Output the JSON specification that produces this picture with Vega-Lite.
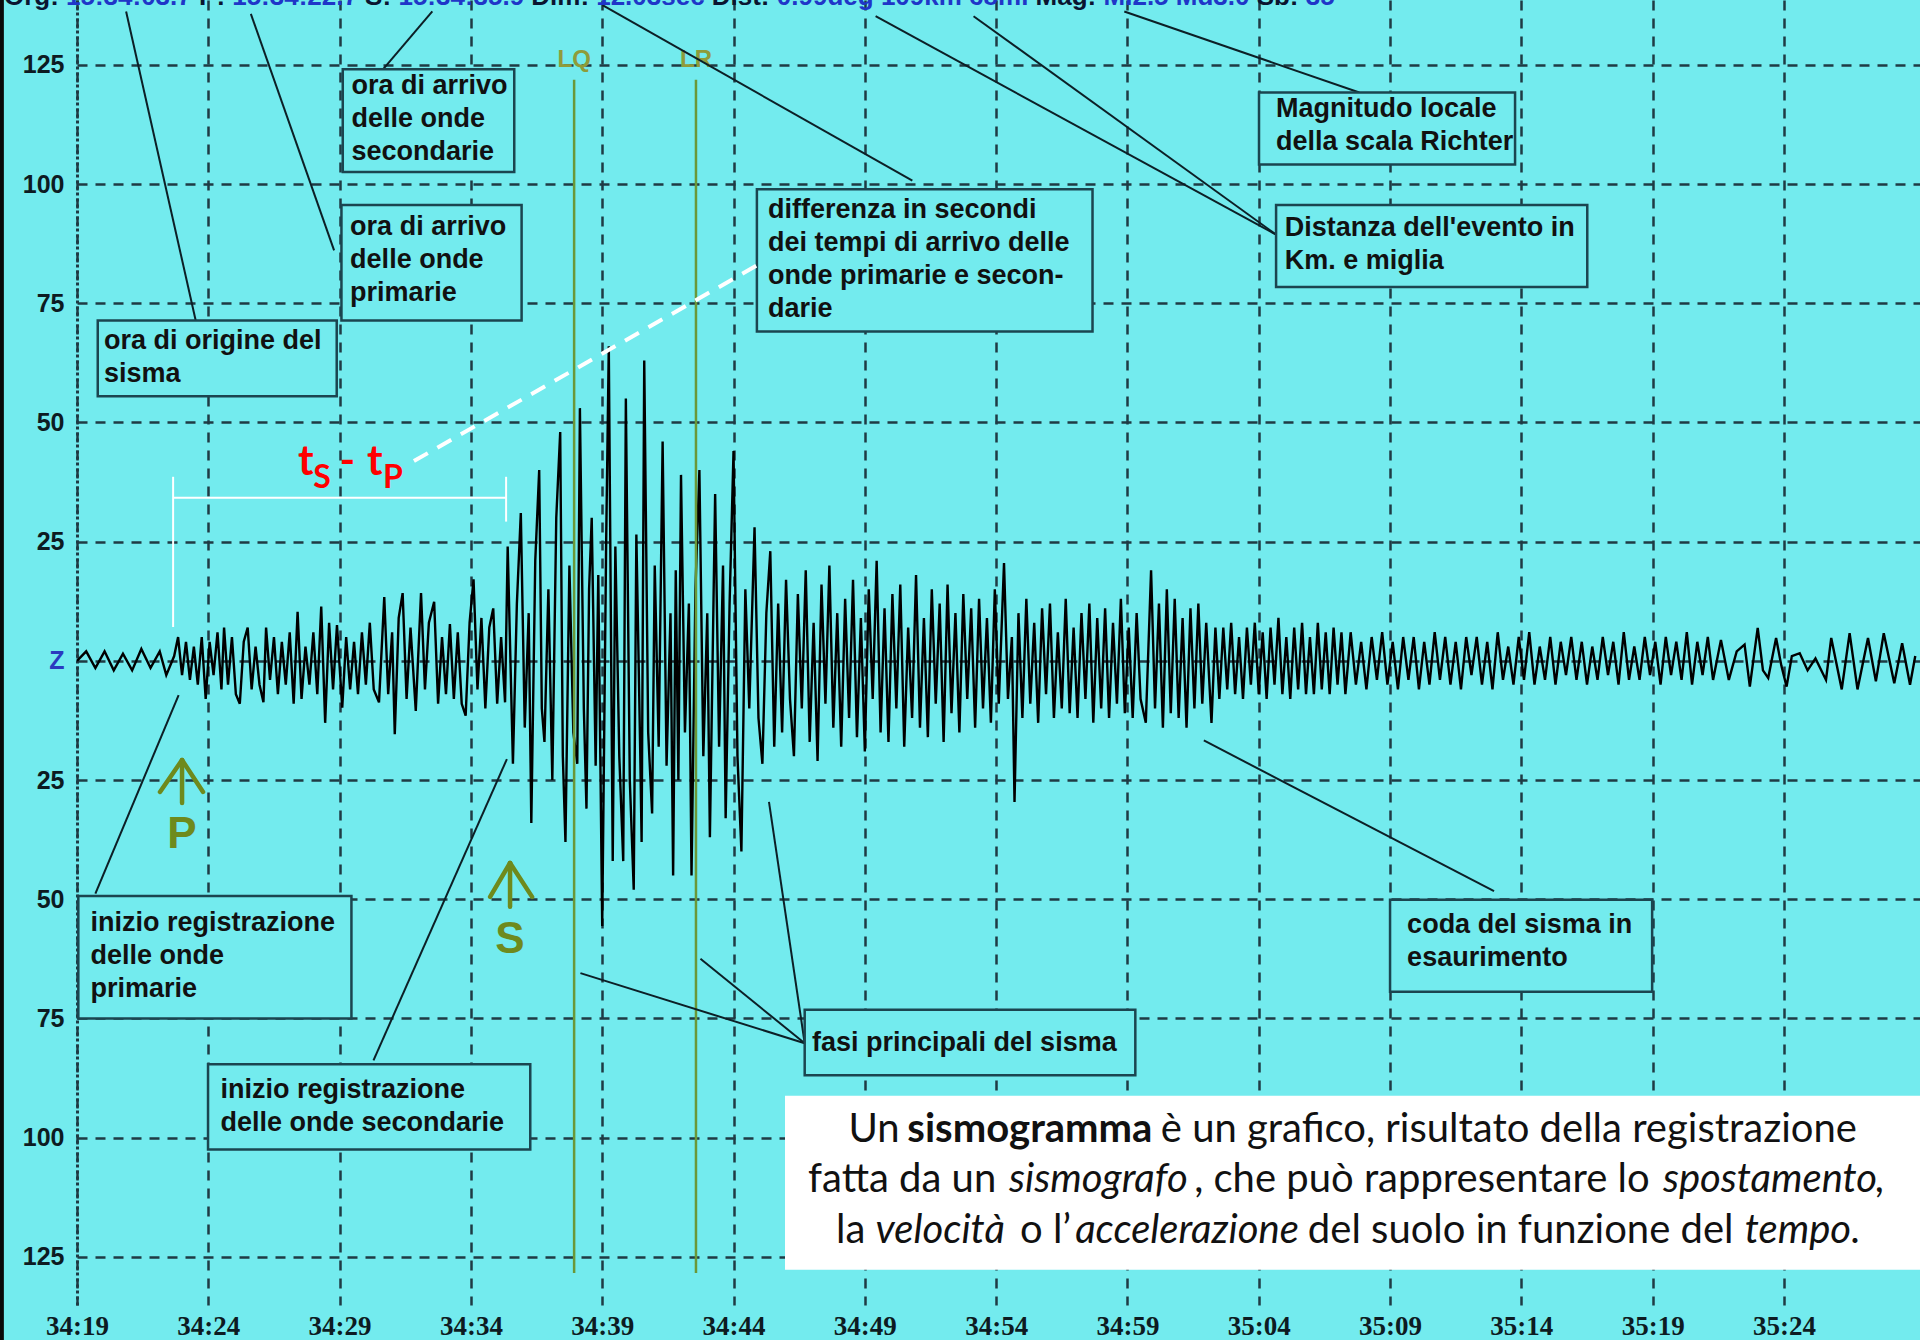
{
  "$schema": "https://vega.github.io/schema/vega-lite/v6.json",
  "width": 1843,
  "height": 1305,
  "autosize": "none",
  "padding": {"left": 77, "top": 0, "right": 0, "bottom": 35},
  "background": "#73EBEE",
  "config": {"view": {"stroke": null}},
  "datasets": {
    "trace": [
      {"s":0,"v":0},{"s":0.35,"v":2},{"s":0.7,"v":-1.5},{"s":1.05,"v":2},{"s":1.4,"v":-2},{"s":1.75,"v":1.5},{"s":2.1,"v":-2},{"s":2.45,"v":2.5},{"s":2.8,"v":-1.5},{"s":3.15,"v":2},{"s":3.4,"v":-3},{"s":3.7,"v":1},
      {"s":3.85,"v":5},{"s":4.0,"v":-3},{"s":4.15,"v":4},{"s":4.3,"v":-4},{"s":4.45,"v":3},{"s":4.6,"v":-5},{"s":4.75,"v":5},{"s":4.9,"v":-8},{"s":5.05,"v":4},{"s":5.2,"v":-3},{"s":5.35,"v":6},{"s":5.5,"v":-6},{"s":5.6,"v":7},{"s":5.75,"v":-5},{"s":5.9,"v":5},{"s":6.05,"v":-7},{"s":6.2,"v":-9},{"s":6.35,"v":4},{"s":6.5,"v":7},{"s":6.65,"v":-6},{"s":6.8,"v":3},{"s":6.95,"v":-5},{"s":7.1,"v":-8.7},{"s":7.2,"v":7},{"s":7.35,"v":-4},{"s":7.5,"v":5},{"s":7.65,"v":-7},{"s":7.8,"v":4},{"s":7.95,"v":-5},{"s":8.1,"v":6},{"s":8.25,"v":-9},{"s":8.4,"v":10.3},{"s":8.55,"v":-8},{"s":8.7,"v":3},{"s":8.85,"v":-5},{"s":9.0,"v":6},{"s":9.15,"v":-7},{"s":9.3,"v":11.4},{"s":9.45,"v":-13},{"s":9.6,"v":8},{"s":9.75,"v":-6},{"s":9.9,"v":7.5},{"s":10.1,"v":-9.8},{"s":10.25,"v":5},{"s":10.4,"v":-6},{"s":10.55,"v":4},{"s":10.7,"v":-7},{"s":10.85,"v":6},{"s":11.0,"v":-5},{"s":11.15,"v":8},{"s":11.3,"v":-6},{"s":11.5,"v":-8.7},{"s":11.7,"v":13.4},{"s":11.85,"v":-7},{"s":12.0,"v":6},{"s":12.1,"v":-15.4},{"s":12.25,"v":9},{"s":12.4,"v":14.2},{"s":12.55,"v":-8},{"s":12.7,"v":7},{"s":12.9,"v":-10.5},{"s":13.1,"v":14.2},{"s":13.25,"v":-6},{"s":13.4,"v":8},{"s":13.6,"v":12.4},{"s":13.75,"v":-9},{"s":13.9,"v":5},{"s":14.05,"v":-7},{"s":14.2,"v":7.7},{"s":14.35,"v":-8},{"s":14.5,"v":6},{"s":14.65,"v":-9},{"s":14.8,"v":-11.5},{"s":14.95,"v":8},{"s":15.1,"v":17.1},{"s":15.25,"v":-6},{"s":15.4,"v":9},{"s":15.55,"v":-10},{"s":15.7,"v":7},{"s":15.85,"v":11},{"s":16.0,"v":-9},{"s":16.15,"v":5},{"s":16.3,"v":-8.7},
      {"s":16.4,"v":24},{"s":16.6,"v":-21.6},{"s":16.75,"v":12},{"s":16.9,"v":31},{"s":17.05,"v":-14},{"s":17.2,"v":10},{"s":17.3,"v":-34},{"s":17.45,"v":21},{"s":17.6,"v":40},{"s":17.7,"v":-10},{"s":17.8,"v":-17},{"s":17.95,"v":15},{"s":18.1,"v":-25},{"s":18.25,"v":30},{"s":18.4,"v":48},{"s":18.5,"v":-20},{"s":18.6,"v":-38},{"s":18.75,"v":20},{"s":18.9,"v":-15},{"s":19.05,"v":-21.6},{"s":19.15,"v":53},{"s":19.3,"v":-10},{"s":19.4,"v":-31},{"s":19.5,"v":15},{"s":19.6,"v":30},{"s":19.75,"v":-22},{"s":19.85,"v":18},{"s":20.0,"v":-55.6},{"s":20.15,"v":25},{"s":20.25,"v":66},{"s":20.4,"v":-42},{"s":20.5,"v":24},{"s":20.65,"v":-20},{"s":20.8,"v":-42},{"s":20.9,"v":55},{"s":21.05,"v":-25},{"s":21.2,"v":-48},{"s":21.3,"v":26.5},{"s":21.45,"v":-20},{"s":21.5,"v":-38},{"s":21.6,"v":63},{"s":21.75,"v":-15},{"s":21.9,"v":-32},{"s":22.0,"v":20},{"s":22.15,"v":-18},{"s":22.3,"v":46},{"s":22.45,"v":-22},{"s":22.6,"v":10},{"s":22.7,"v":-45},{"s":22.8,"v":19},{"s":22.9,"v":-25},{"s":23.0,"v":39},{"s":23.15,"v":-15},{"s":23.3,"v":12},{"s":23.4,"v":-45},{"s":23.55,"v":15},{"s":23.7,"v":40},{"s":23.85,"v":-20},{"s":24.0,"v":10},{"s":24.1,"v":-37},{"s":24.3,"v":35},{"s":24.45,"v":-18},{"s":24.6,"v":20},{"s":24.7,"v":-33},{"s":24.85,"v":12},{"s":25.0,"v":44},{"s":25.15,"v":-20},{"s":25.3,"v":-40},{"s":25.45,"v":15},{"s":25.6,"v":-10},{"s":25.8,"v":28},{"s":25.95,"v":-12},{"s":26.1,"v":-21.6},{"s":26.25,"v":10},{"s":26.4,"v":23},{"s":26.55,"v":-18},{"s":26.7,"v":12},
      {"s":26.85,"v":-15},{"s":27.0,"v":17},{"s":27.15,"v":-8},{"s":27.3,"v":-20},{"s":27.45,"v":14},{"s":27.6,"v":-10},{"s":27.75,"v":19},{"s":27.9,"v":-17},{"s":28.05,"v":8},{"s":28.2,"v":-21},{"s":28.35,"v":16},{"s":28.5,"v":-9},{"s":28.65,"v":20},{"s":28.8,"v":-14},{"s":28.95,"v":10},{"s":29.1,"v":-18},{"s":29.25,"v":13},{"s":29.4,"v":-12},{"s":29.55,"v":17},{"s":29.7,"v":-16},{"s":29.85,"v":9},{"s":30.0,"v":-19},{"s":30.15,"v":15},{"s":30.3,"v":-8},{"s":30.45,"v":21},{"s":30.6,"v":-15},{"s":30.75,"v":11},{"s":30.9,"v":-17},{"s":31.05,"v":14},{"s":31.2,"v":-10},{"s":31.35,"v":16},{"s":31.5,"v":-18},{"s":31.65,"v":7},{"s":31.8,"v":-12},{"s":31.95,"v":18},{"s":32.1,"v":-14},{"s":32.25,"v":9},{"s":32.4,"v":-16},{"s":32.55,"v":15},{"s":32.7,"v":-9},{"s":32.85,"v":12},{"s":33.0,"v":-17},{"s":33.15,"v":16},{"s":33.3,"v":-11},{"s":33.45,"v":10},{"s":33.6,"v":-15},{"s":33.75,"v":14},{"s":33.9,"v":-8},{"s":34.05,"v":11},{"s":34.2,"v":-14},{"s":34.35,"v":13},{"s":34.5,"v":-10},{"s":34.65,"v":9},{"s":34.8,"v":-13},{"s":34.95,"v":15},{"s":35.1,"v":-9},{"s":35.3,"v":20.5},{"s":35.45,"v":-8},{"s":35.6,"v":5},{"s":35.7,"v":-29.6},{"s":35.85,"v":10},{"s":36.0,"v":-12},
      {"s":36.15,"v":13},{"s":36.3,"v":-9},{"s":36.45,"v":8},{"s":36.6,"v":-13},{"s":36.75,"v":11},{"s":36.9,"v":-7},{"s":37.05,"v":12},{"s":37.2,"v":-12},{"s":37.35,"v":6},{"s":37.5,"v":-10},{"s":37.65,"v":13},{"s":37.8,"v":-11},{"s":37.95,"v":7},{"s":38.1,"v":-12},{"s":38.25,"v":10},{"s":38.4,"v":-8},{"s":38.55,"v":12},{"s":38.7,"v":-13},{"s":38.85,"v":9},{"s":39.0,"v":-10},{"s":39.15,"v":11},{"s":39.3,"v":-12},{"s":39.45,"v":8},{"s":39.6,"v":-9},{"s":39.75,"v":13},{"s":39.9,"v":-11},{"s":40.05,"v":7},{"s":40.2,"v":-12},{"s":40.35,"v":10},{"s":40.5,"v":-8},{"s":40.7,"v":-13},{"s":40.9,"v":19},{"s":41.05,"v":-10},{"s":41.2,"v":12},{"s":41.35,"v":-14},{"s":41.5,"v":15},{"s":41.65,"v":-11},{"s":41.8,"v":13},{"s":41.95,"v":-12},{"s":42.1,"v":9},{"s":42.25,"v":-14},{"s":42.4,"v":11},{"s":42.55,"v":-10},{"s":42.7,"v":12},{"s":42.85,"v":-9},{"s":43.0,"v":8},{"s":43.2,"v":-13},{"s":43.35,"v":7},
      {"s":43.5,"v":-8},{"s":43.65,"v":7},{"s":43.8,"v":-6},{"s":43.95,"v":8},{"s":44.1,"v":-7},{"s":44.25,"v":5},{"s":44.4,"v":-8},{"s":44.55,"v":7},{"s":44.7,"v":-5},{"s":44.85,"v":8},{"s":45.0,"v":-7},{"s":45.15,"v":6},{"s":45.3,"v":-8},{"s":45.45,"v":7},{"s":45.6,"v":-5},{"s":45.75,"v":9},{"s":45.9,"v":-7},{"s":46.05,"v":5},{"s":46.2,"v":-8},{"s":46.35,"v":7},{"s":46.5,"v":-6},{"s":46.65,"v":8},{"s":46.8,"v":-7},{"s":46.95,"v":5},{"s":47.1,"v":-7},{"s":47.25,"v":8},{"s":47.4,"v":-6},{"s":47.55,"v":6},{"s":47.7,"v":-7},{"s":47.85,"v":7},{"s":48.0,"v":-5},{"s":48.15,"v":6},{"s":48.3,"v":-7},
      {"s":48.5,"v":6},{"s":48.7,"v":-5},{"s":48.9,"v":4},{"s":49.1,"v":-6},{"s":49.3,"v":5},{"s":49.5,"v":-4},{"s":49.7,"v":6},{"s":49.9,"v":-5},{"s":50.1,"v":4},{"s":50.3,"v":-6},{"s":50.5,"v":5},{"s":50.7,"v":-4},{"s":50.9,"v":5},{"s":51.1,"v":-6},{"s":51.3,"v":4},{"s":51.5,"v":-5},{"s":51.7,"v":6},{"s":51.9,"v":-4},{"s":52.1,"v":5},{"s":52.3,"v":-5},{"s":52.5,"v":4},{"s":52.7,"v":-6},{"s":52.9,"v":5},{"s":53.1,"v":-3},{"s":53.3,"v":5},{"s":53.5,"v":-5},{"s":53.7,"v":4},{"s":53.9,"v":-6},{"s":54.1,"v":6},{"s":54.3,"v":-4},{"s":54.5,"v":3},{"s":54.7,"v":-5},{"s":54.9,"v":5},{"s":55.1,"v":-4},{"s":55.3,"v":6},{"s":55.5,"v":-5},{"s":55.7,"v":3},{"s":55.9,"v":-4},{"s":56.1,"v":5},{"s":56.3,"v":-5},{"s":56.5,"v":4},{"s":56.7,"v":-3},{"s":56.9,"v":5},{"s":57.1,"v":-4},{"s":57.3,"v":4},{"s":57.5,"v":-5},{"s":57.7,"v":3},{"s":57.9,"v":-4},{"s":58.1,"v":5},{"s":58.3,"v":-3},{"s":58.5,"v":4},{"s":58.7,"v":-5},{"s":58.9,"v":6},{"s":59.1,"v":-4},{"s":59.3,"v":3},{"s":59.5,"v":-4},{"s":59.7,"v":5},{"s":59.9,"v":-3},{"s":60.1,"v":4},{"s":60.3,"v":-5},{"s":60.5,"v":5},{"s":60.7,"v":-3},{"s":60.9,"v":4},{"s":61.1,"v":-4},{"s":61.3,"v":6},{"s":61.5,"v":-5},{"s":61.7,"v":4},{"s":61.9,"v":-3},{"s":62.1,"v":5},{"s":62.3,"v":-4},
      {"s":62.6,"v":4.4},{"s":62.9,"v":-4},{"s":63.2,"v":2},{"s":63.5,"v":3.4},{"s":63.7,"v":-5.4},{"s":64.0,"v":6.9},{"s":64.2,"v":-2},{"s":64.4,"v":-3.6},{"s":64.7,"v":4.8},{"s":64.9,"v":-1},{"s":65.1,"v":-5.4},{"s":65.3,"v":1},{"s":65.6,"v":1.6},{"s":65.9,"v":-2},{"s":66.2,"v":0.5},{"s":66.6,"v":-4},{"s":66.8,"v":4.8},{"s":67.2,"v":-6},{"s":67.5,"v":5.8},{"s":67.8,"v":-6},{"s":68.2,"v":4.8},{"s":68.5,"v":-4.3},{"s":68.8,"v":5.8},{"s":69.2,"v":-4.7},{"s":69.5,"v":3.7},{"s":69.8,"v":-5},{"s":70.0,"v":1}
    ],
    "boxes": [
      {"s":10.12,"s2":16.65,"v":124.1,"v2":102.5},
      {"s":10.07,"s2":16.93,"v":95.6,"v2":71.4},
      {"s":0.79,"s2":9.89,"v":71.4,"v2":55.5},
      {"s":25.89,"s2":38.67,"v":98.9,"v2":69.1},
      {"s":45.01,"s2":54.76,"v":119.2,"v2":104.1},
      {"s":45.66,"s2":57.51,"v":95.6,"v2":78.4},
      {"s":0.05,"s2":10.45,"v":-49.3,"v2":-75.0},
      {"s":4.99,"s2":17.26,"v":-84.6,"v2":-102.5},
      {"s":50.0,"s2":59.98,"v":-50.1,"v2":-69.4},
      {"s":27.71,"s2":40.3,"v":-73.2,"v2":-86.9}
    ],
    "boxText": [
      {"s":10.45,"v":120.5,"label":"ora di arrivo\ndelle onde\nsecondarie"},
      {"s":10.4,"v":91.0,"label":"ora di arrivo\ndelle onde\nprimarie"},
      {"s":1.03,"v":67.1,"label":"ora di origine del\nsisma"},
      {"s":26.31,"v":94.6,"label":"differenza in secondi\ndei tempi di arrivo delle\nonde primarie e secon-\ndarie"},
      {"s":45.66,"v":115.7,"label":"Magnitudo locale\ndella scala Richter"},
      {"s":45.99,"v":90.7,"label":"Distanza dell'evento in\nKm. e miglia"},
      {"s":0.51,"v":-55.0,"label":"inizio registrazione\ndelle onde\nprimarie"},
      {"s":5.46,"v":-90.0,"label":"inizio registrazione\ndelle onde secondarie"},
      {"s":50.65,"v":-55.5,"label":"coda del sisma in\nesaurimento"},
      {"s":27.99,"v":-80.2,"label":"fasi principali del sisma"}
    ],
    "pointers": [
      {"s":4.52,"v":71.4,"s2":1.87,"v2":136.2},
      {"s":9.79,"v":86.1,"s2":6.62,"v2":135.7},
      {"s":11.66,"v":124.1,"s2":13.53,"v2":136.2},
      {"s":31.81,"v":100.7,"s2":20.01,"v2":137.5},
      {"s":45.66,"v":89.4,"s2":30.41,"v2":135.2},
      {"s":45.66,"v":89.4,"s2":34.14,"v2":135.2},
      {"s":48.83,"v":119.2,"s2":39.88,"v2":136.2},
      {"s":0.7,"v":-48.8,"s2":3.87,"v2":-7.2},
      {"s":11.29,"v":-83.8,"s2":16.37,"v2":-20.6},
      {"s":53.96,"v":-48.3,"s2":42.91,"v2":-16.7},
      {"s":27.71,"v":-80.2,"s2":19.17,"v2":-65.5},
      {"s":27.71,"v":-80.2,"s2":23.74,"v2":-62.5},
      {"s":27.71,"v":-80.2,"s2":26.35,"v2":-29.6}
    ],
    "phases": [
      {"s":18.93,"v":121.9,"v2":-128.4,"name":"LQ","lv":126},
      {"s":23.57,"v":121.9,"v2":-128.4,"name":"LR","lv":126}
    ],
    "bracket": [
      {"s":3.66,"v":34.2,"s2":16.34,"v2":34.2},
      {"s":3.66,"v":38.6,"s2":3.66,"v2":7.1},
      {"s":16.34,"v":38.6,"s2":16.34,"v2":29.2}
    ],
    "link": [{"s":12.83,"v":41.9,"s2":26.07,"v2":83.5}],
    "tstp": [
      {"s":8.42,"v":39.0,"text":"t","part":"main"},
      {"s":9.0,"v":36.3,"text":"S","part":"sub"},
      {"s":10.0,"v":39.0,"text":"-","part":"main"},
      {"s":11.04,"v":39.0,"text":"t","part":"main"},
      {"s":11.65,"v":36.3,"text":"P","part":"sub"}
    ],
    "arrows": [
      {"s":4.0,"v":-20.8,"s2":4.0,"v2":-29.8},
      {"s":4.0,"v":-20.8,"s2":3.16,"v2":-27.5},
      {"s":4.0,"v":-20.8,"s2":4.8,"v2":-27.5},
      {"s":16.49,"v":-42.4,"s2":16.49,"v2":-51.6},
      {"s":16.49,"v":-42.4,"s2":15.73,"v2":-49.5},
      {"s":16.49,"v":-42.4,"s2":17.33,"v2":-49.5}
    ],
    "waves": [{"s":4.0,"v":-39.2,"text":"P"},{"s":16.49,"v":-61.2,"text":"S"}],
    "note": [{"s":26.96,"s2":70.18,"v":-91.2,"v2":-127.7}],
    "noteText": [
      {"s":29.38,"v":-98.3,"text":"Un","style":"regular"},
      {"s":31.62,"v":-98.3,"text":"sismogramma","style":"bold"},
      {"s":41.27,"v":-98.3,"text":"è un grafico, risultato della registrazione","style":"regular"},
      {"s":27.84,"v":-108.8,"text":"fatta da un","style":"regular"},
      {"s":35.49,"v":-108.8,"text":"sismografo","style":"italic"},
      {"s":42.54,"v":-108.8,"text":", che può rappresentare lo","style":"regular"},
      {"s":60.39,"v":-108.8,"text":"spostamento","style":"italic"},
      {"s":68.46,"v":-108.8,"text":",","style":"regular"},
      {"s":28.9,"v":-119.5,"text":"la","style":"regular"},
      {"s":30.41,"v":-119.5,"text":"velocità","style":"italic"},
      {"s":35.91,"v":-119.5,"text":"o l’","style":"regular"},
      {"s":38.01,"v":-119.5,"text":"accelerazione","style":"italic"},
      {"s":46.87,"v":-119.5,"text":"del suolo in funzione del","style":"regular"},
      {"s":63.51,"v":-119.5,"text":"tempo","style":"italic"},
      {"s":67.52,"v":-119.5,"text":".","style":"regular"}
    ],
    "header": [
      {"s":-2.78,"v":137.5,"text":"Org:","kind":"label"},
      {"s":-0.42,"v":137.5,"text":"15:34:03.7","kind":"value"},
      {"s":4.65,"v":137.5,"text":"P:","kind":"label"},
      {"s":5.91,"v":137.5,"text":"15:34:22.7","kind":"value"},
      {"s":10.97,"v":137.5,"text":"S:","kind":"label"},
      {"s":12.24,"v":137.5,"text":"15:34:35.9","kind":"value"},
      {"s":17.3,"v":137.5,"text":"Dim:","kind":"label"},
      {"s":19.77,"v":137.5,"text":"12.03sec","kind":"value"},
      {"s":24.17,"v":137.5,"text":"Dist:","kind":"label"},
      {"s":26.65,"v":137.5,"text":"0.99deg 109km 68mi","kind":"value"},
      {"s":36.5,"v":137.5,"text":"Mag:","kind":"label"},
      {"s":39.09,"v":137.5,"text":"Ml2.5 Md3.0","kind":"value"},
      {"s":44.92,"v":137.5,"text":"Sb:","kind":"label"},
      {"s":46.79,"v":137.5,"text":"35","kind":"value"}
    ],
    "frame": [{"s":-2.88,"v":140,"v2":-145}]
  },
  "encoding": {
    "x": {
      "field": "s", "type": "quantitative",
      "scale": {"domain": [0, 70.18], "nice": false, "zero": false},
      "axis": {
        "title": null,
        "values": [0,5,10,15,20,25,30,35,40,45,50,55,60,65],
        "labelExpr": "floor((2059+datum.value)/60) + ':' + ((2059+datum.value)%60 < 10 ? '0' : '') + ((2059+datum.value)%60)",
        "grid": true, "gridDash": [10, 8], "gridColor": "#1f3b44", "gridWidth": 2.5,
        "domain": false, "ticks": false, "labelPadding": 8,
        "labelFont": "Liberation Sans Narrow", "labelFontWeight": "bold", "labelFontSize": 27,
        "labelColor": "#0d1b22", "labelFlush": false, "labelOverlap": false
      }
    },
    "y": {
      "field": "v", "type": "quantitative",
      "scale": {"domain": [-135.1, 138.6], "nice": false, "zero": false},
      "axis": {
        "title": null,
        "values": [-125,-100,-75,-50,-25,0,25,50,75,100,125],
        "labelExpr": "datum.value == 0 ? 'Z' : '' + abs(datum.value)",
        "grid": true, "gridDash": [10, 8], "gridColor": "#1f3b44", "gridWidth": 2.5,
        "domain": true, "domainDash": [3, 3], "domainColor": "#1f3b44", "domainWidth": 3,
        "ticks": false, "labelPadding": 13,
        "labelFont": "Liberation Sans", "labelFontWeight": "bold", "labelFontSize": 25,
        "labelColor": {"condition": {"test": "datum.value == 0", "value": "#2a3bbf"}, "value": "#0d1b22"},
        "labelOverlap": false
      }
    }
  },
  "layer": [
    {
      "data": {"name": "frame"},
      "mark": {"type": "rule", "color": "#0a0a0a", "strokeWidth": 5},
      "encoding": {"y2": {"field": "v2"}}
    },
    {
      "data": {"name": "trace"},
      "mark": {"type": "line", "color": "#000000", "strokeWidth": 2.4}
    },
    {
      "data": {"name": "phases"},
      "mark": {"type": "rule", "color": "#6a9838", "strokeWidth": 2.5},
      "encoding": {"y2": {"field": "v2"}}
    },
    {
      "data": {"name": "phases"},
      "mark": {"type": "text", "color": "#8f9c3a", "font": "Liberation Sans", "fontWeight": "bold", "fontSize": 24, "align": "center", "baseline": "middle"},
      "encoding": {"y": {"field": "lv", "type": "quantitative"}, "text": {"field": "name"}}
    },
    {
      "data": {"name": "pointers"},
      "mark": {"type": "rule", "color": "#0c1f26", "strokeWidth": 2},
      "encoding": {"x2": {"field": "s2"}, "y2": {"field": "v2"}}
    },
    {
      "data": {"name": "boxes"},
      "mark": {"type": "rect", "fill": "#73EBEE", "stroke": "#1b4550", "strokeWidth": 2.5},
      "encoding": {"x2": {"field": "s2"}, "y2": {"field": "v2"}}
    },
    {
      "data": {"name": "boxText"},
      "mark": {"type": "text", "align": "left", "baseline": "middle", "lineBreak": "\n", "lineHeight": 33, "font": "Liberation Sans", "fontWeight": "bold", "fontSize": 27, "color": "#111111"},
      "encoding": {"text": {"field": "label"}}
    },
    {
      "data": {"name": "bracket"},
      "mark": {"type": "rule", "color": "#ffffff", "strokeWidth": 2},
      "encoding": {"x2": {"field": "s2"}, "y2": {"field": "v2"}}
    },
    {
      "data": {"name": "link"},
      "mark": {"type": "rule", "color": "#ffffff", "strokeWidth": 4, "strokeDash": [16, 11]},
      "encoding": {"x2": {"field": "s2"}, "y2": {"field": "v2"}}
    },
    {
      "data": {"name": "tstp"},
      "transform": [{"filter": "datum.part == 'main'"}],
      "mark": {"type": "text", "color": "#ff0000", "font": "Lato", "fontWeight": "bold", "fontSize": 42, "align": "left", "baseline": "alphabetic"},
      "encoding": {"text": {"field": "text"}}
    },
    {
      "data": {"name": "tstp"},
      "transform": [{"filter": "datum.part == 'sub'"}],
      "mark": {"type": "text", "color": "#ff0000", "font": "Lato", "fontWeight": "bold", "fontSize": 32, "align": "left", "baseline": "alphabetic"},
      "encoding": {"text": {"field": "text"}}
    },
    {
      "data": {"name": "arrows"},
      "mark": {"type": "rule", "color": "#6e8a1d", "strokeWidth": 4.5, "strokeCap": "round"},
      "encoding": {"x2": {"field": "s2"}, "y2": {"field": "v2"}}
    },
    {
      "data": {"name": "waves"},
      "mark": {"type": "text", "color": "#6e8a1d", "font": "Liberation Sans", "fontWeight": "bold", "fontSize": 44, "align": "center", "baseline": "alphabetic"},
      "encoding": {"text": {"field": "text"}}
    },
    {
      "data": {"name": "note"},
      "mark": {"type": "rect", "fill": "#ffffff"},
      "encoding": {"x2": {"field": "s2"}, "y2": {"field": "v2"}}
    },
    {
      "data": {"name": "noteText"},
      "transform": [{"filter": "datum.style == 'regular'"}],
      "mark": {"type": "text", "color": "#111111", "font": "Lato", "fontSize": 40, "align": "left", "baseline": "middle"},
      "encoding": {"text": {"field": "text"}}
    },
    {
      "data": {"name": "noteText"},
      "transform": [{"filter": "datum.style == 'bold'"}],
      "mark": {"type": "text", "color": "#111111", "font": "Lato", "fontWeight": "bold", "fontSize": 40, "align": "left", "baseline": "middle"},
      "encoding": {"text": {"field": "text"}}
    },
    {
      "data": {"name": "noteText"},
      "transform": [{"filter": "datum.style == 'italic'"}],
      "mark": {"type": "text", "color": "#111111", "font": "Lato", "fontStyle": "italic", "fontSize": 40, "align": "left", "baseline": "middle"},
      "encoding": {"text": {"field": "text"}}
    },
    {
      "data": {"name": "header"},
      "transform": [{"filter": "datum.kind == 'label'"}],
      "mark": {"type": "text", "color": "#0a1530", "font": "Liberation Sans", "fontWeight": "bold", "fontSize": 26, "align": "left", "baseline": "alphabetic"},
      "encoding": {"text": {"field": "text"}}
    },
    {
      "data": {"name": "header"},
      "transform": [{"filter": "datum.kind == 'value'"}],
      "mark": {"type": "text", "color": "#1f36c8", "font": "Liberation Sans", "fontWeight": "bold", "fontSize": 26, "align": "left", "baseline": "alphabetic"},
      "encoding": {"text": {"field": "text"}}
    }
  ]
}
